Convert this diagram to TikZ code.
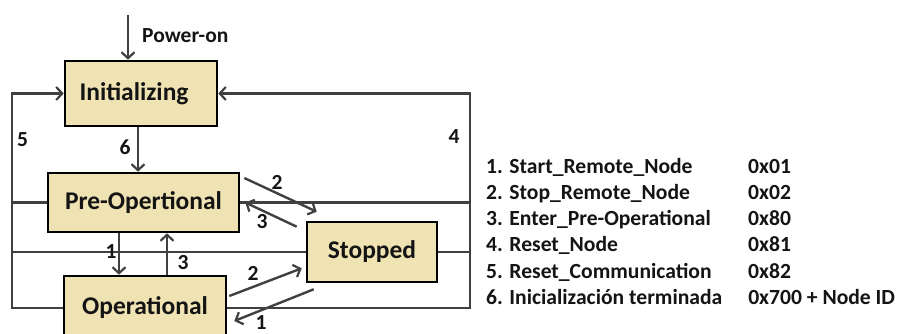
\documentclass[tikz,border=0pt]{standalone}
\usepackage{fontspec}
\setmainfont{Carlito}
\usetikzlibrary{arrows.meta}
\definecolor{boxfill}{HTML}{EFE2B3}
\definecolor{wire}{HTML}{404040}
\definecolor{ink}{HTML}{141414}
\tikzset{
  state/.style={draw=black, line width=2.6pt, fill=boxfill, inner sep=0pt,
    text=ink, font=\fontsize{25.5}{30}\selectfont\bfseries},
  wireline/.style={draw=wire, line width=2.4pt},
  trans/.style={wireline, -{Straight Barb[length=6pt,width=13pt,line width=2.2pt]}},
  tag/.style={text=ink, inner sep=0pt, font=\fontsize{21.5}{24}\selectfont\bfseries}
}
\begin{document}
\begin{tikzpicture}[x=1pt, y=-1pt]
  \useasboundingbox (0,0) rectangle (901,334);

  % states
  \node[state, minimum width=152pt, minimum height=65pt] (init) at (141,93.5) {\hspace*{-14pt}Initializing};
  \node[state, minimum width=191pt, minimum height=59pt] (preop) at (143.5,202.5) {Pre-Opertional};
  \node[state, minimum width=130pt, minimum height=60pt] (stop) at (372,252) {Stopped};
  \node[state, minimum width=162pt, minimum height=64pt] (oper) at (145,308) {Operational};

  % guide coordinates for the two side buses and vertical arrows
  \coordinate (lft) at (12,200);
  \coordinate (rgt) at (470,200);
  \coordinate (pwr) at (128,15);
  \coordinate (x6) at (138,0);
  \coordinate (x1) at (119,0);
  \coordinate (x3) at (167,0);

  % power-on entry
  \draw[trans] (pwr) -- (pwr |- init.north);
  \node[tag, anchor=west] (pwrlbl) at (142,36) {Power-on};

  % initialization finished
  \draw[trans] (init.south -| x6) -- (preop.north -| x6);

  % reset communication bus (left)
  \draw[trans] (oper.west) -| (lft) |- (init.west);
  \draw[wireline] (preop.west) -- (preop.west -| lft);
  \draw[wireline] (stop.west) -- (stop.west -| lft);

  % reset node bus (right)
  \draw[trans] (oper.east) -| (rgt) |- (init.east);
  \draw[wireline] (preop.east) -- (preop.east -| rgt);
  \draw[wireline] (stop.east) -- (stop.east -| rgt);

  % pre-operational <-> operational
  \draw[trans] (preop.south -| x1) -- (oper.north -| x1);
  \draw[trans] (oper.north -| x3) -- (preop.south -| x3);

  % pre-operational <-> stopped
  \draw[trans] ([shift={(4,-24.5)}]preop.east) -- ([shift={(11,-9)}]stop.north west);
  \draw[trans] ([shift={(-9,6)}]stop.north west) -- ([shift={(5,0)}]preop.east);

  % operational <-> stopped
  \draw[trans] ([shift={(2,-12)}]oper.east) -- ([shift={(-4,-15)}]stop.south west);
  \draw[trans] ([shift={(8,6)}]stop.south west) -- ([shift={(7,13)}]oper.east);

  % transition numbers
  \node[tag] (t5) at (22.5,140) {5};
  \node[tag] (t4) at (454,137) {4};
  \node[tag] (t6) at (125,147) {6};
  \node[tag] (t1a) at (111,252) {1};
  \node[tag] (t3a) at (183,263) {3};
  \node[tag] (t2a) at (277,182) {2};
  \node[tag] (t3b) at (262,222) {3};
  \node[tag] (t2b) at (253,273) {2};
  \node[tag] (t1b) at (261,323) {1};

  % command legend
  \node[anchor=base west, inner sep=0pt, text=ink] (legend) at (486,173) {%
    \fontsize{21.6}{26.3}\selectfont\bfseries
    \begin{tabular}[t]{@{}p{262pt}@{}l@{}}
      1. Start\_Remote\_Node & 0x01\\
      2. Stop\_Remote\_Node & 0x02\\
      3. Enter\_Pre-Operational & 0x80\\
      4. Reset\_Node & 0x81\\
      5. Reset\_Communication & 0x82\\
      6. Inicialización terminada & 0x700 + Node ID
    \end{tabular}};
\end{tikzpicture}
\end{document}
